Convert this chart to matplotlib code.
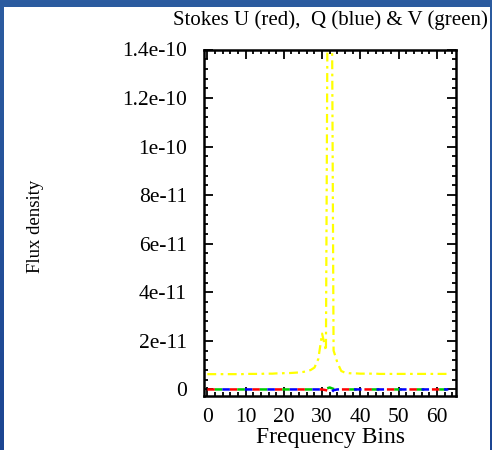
import numpy as np
import matplotlib
matplotlib.use("Agg")
import matplotlib.pyplot as plt
from matplotlib.ticker import FixedLocator, FixedFormatter, MultipleLocator
from matplotlib.colors import LinearSegmentedColormap

# ---------------- data ----------------
bins = list(range(64))
stokes_i_yellow = [
    6.3e-12, 6.3e-12, 6.3e-12, 6.3e-12, 6.3e-12, 6.3e-12, 6.3e-12, 6.3e-12,
    6.3e-12, 6.3e-12, 6.4e-12, 6.4e-12, 6.4e-12, 6.4e-12, 6.4e-12, 6.5e-12,
    6.5e-12, 6.5e-12, 6.6e-12, 6.6e-12, 6.7e-12, 6.7e-12, 6.8e-12, 6.9e-12,
    7.0e-12, 7.2e-12, 7.5e-12, 8.0e-12, 9.0e-12, 1.25e-11, 2.3e-11, 1.6e-11,
    3.5e-10, 1.6e-11, 1.1e-11, 7.6e-12, 6.9e-12, 6.7e-12, 6.6e-12, 6.6e-12,
    6.5e-12, 6.5e-12, 6.5e-12, 6.5e-12, 6.5e-12, 6.4e-12, 6.4e-12, 6.4e-12,
    6.4e-12, 6.4e-12, 6.4e-12, 6.4e-12, 6.4e-12, 6.4e-12, 6.4e-12, 6.4e-12,
    6.4e-12, 6.4e-12, 6.4e-12, 6.4e-12, 6.4e-12, 6.4e-12, 6.4e-12, 6.4e-12,
]
stokes_u_red = [0.0] * 31 + [-0.3e-12, -0.7e-12, -0.2e-12] + [0.0] * 30
stokes_q_blue = [0.0] * 31 + [-0.4e-12, -1.9e-12, -0.3e-12] + [0.0] * 30
stokes_v_green = [0.0] * 31 + [0.3e-12, 0.8e-12, 0.2e-12] + [0.0] * 30

x_ticks = [0, 10, 20, 30, 40, 50, 60]
y_ticks = [0, 2e-11, 4e-11, 6e-11, 8e-11, 1e-10, 1.2e-10, 1.4e-10]
y_tick_labels = ["0", "2e-11", "4e-11", "6e-11", "8e-11", "1e-10", "1.2e-10", "1.4e-10"]

title = "Stokes U (red),  Q (blue) & V (green)"
xlabel = "Frequency Bins"
ylabel = "Flux density"

# ---------------- figure ----------------
W, H = 492, 450
fig = plt.figure(figsize=(W / 100, H / 100), dpi=100)

# blue gradient background with white panel
bg = fig.add_axes([0, 0, 1, 1], zorder=-10)
grad = np.linspace(0, 1, 256).reshape(-1, 1)
cmap = LinearSegmentedColormap.from_list("bb", ["#2c5ca0", "#1c4592"])
bg.imshow(grad, aspect="auto", cmap=cmap, extent=[0, 1, 0, 1], origin="upper")
bg.add_patch(plt.Rectangle((4 / W, 0), (490 - 4) / W, (H - 7) / H,
                           transform=bg.transAxes, facecolor="white", edgecolor="none"))
bg.set_xlim(0, 1)
bg.set_ylim(0, 1)
bg.axis("off")

left, right, top, bottom = 203.5, 456.0, 49.5, 396.0
ax = fig.add_axes([left / W, 1 - bottom / H, (right - left) / W, (bottom - top) / H])
ax.set_facecolor("white")

serif = ["Liberation Serif", "DejaVu Serif"]

ax.plot(bins, stokes_i_yellow, color="#ffff00", lw=1.6, dashes=(4, 2, 1.2, 2))
ax.plot(bins, stokes_u_red, color="#ff0000", lw=1.8, linestyle=(0, (3, 6)))
ax.plot(bins, stokes_v_green, color="#00cc00", lw=1.8, linestyle=(6, (3, 6)))
ax.plot(bins, stokes_q_blue, color="#0000ff", lw=1.8, linestyle=(3, (3, 6)))

ax.set_xlim(-1, 65)
ax.set_ylim(-2.7e-12, 1.4e-10)

ax.xaxis.set_major_locator(FixedLocator(x_ticks))
ax.xaxis.set_minor_locator(MultipleLocator(2))
ax.yaxis.set_major_locator(FixedLocator(y_ticks))
ax.yaxis.set_major_formatter(FixedFormatter(y_tick_labels))
ax.yaxis.set_minor_locator(MultipleLocator(4e-12))

ax.tick_params(which="both", direction="in", top=True, right=True, width=1.3, color="black")
ax.tick_params(which="major", length=6.5)
ax.tick_params(which="minor", length=3.2)
ax.tick_params(axis="y", which="major", pad=12, labelsize=15.5)
ax.tick_params(axis="x", which="major", pad=9, labelsize=15.5)
for lab in ax.get_xticklabels() + ax.get_yticklabels():
    lab.set_family(serif)

for s in ax.spines.values():
    s.set_linewidth(1.8)
    s.set_color("black")

fig.text(330 / W, 1 - 437.5 / H, xlabel, ha="center", va="center", fontsize=17, family=serif)
fig.text(36 / W, 1 - 226 / H, ylabel, ha="center", va="center", rotation=90, fontsize=13.5, family=serif)
fig.text(330 / W, 1 - 20 / H, title, ha="center", va="center", fontsize=15, family=serif)

fig.savefig("out.png", dpi=100)
